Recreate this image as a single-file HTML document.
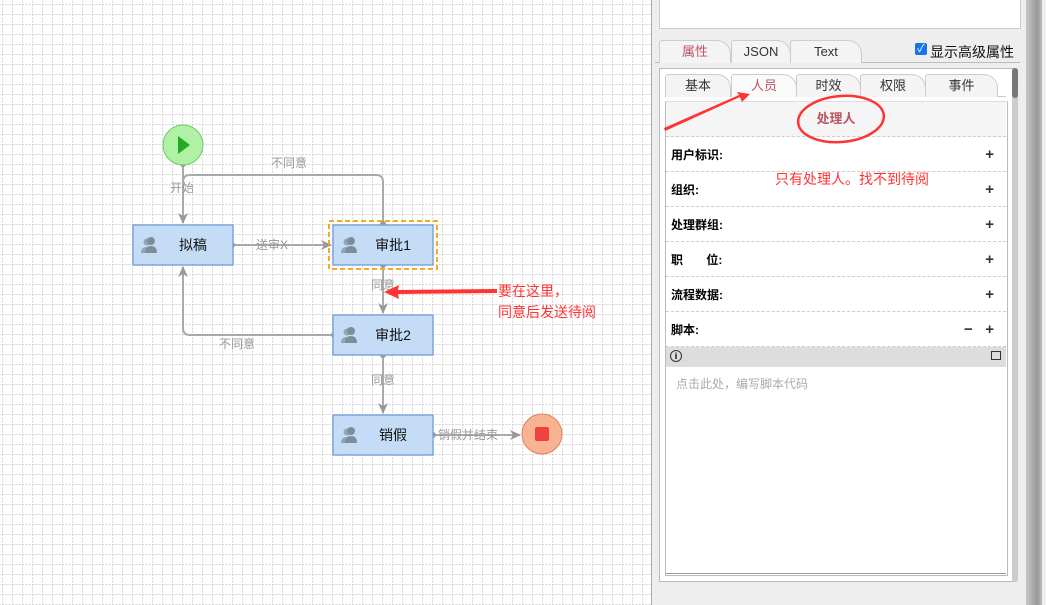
<!DOCTYPE html>
<html><head><meta charset="utf-8"><style>
body{margin:0;width:1046px;height:605px;overflow:hidden;position:relative;font-family:"Liberation Sans","Noto Sans CJK SC",sans-serif;}
.panel{position:absolute;left:651px;top:0;width:395px;height:605px;background:#eeeeee;border-left:1px solid #aaa;}
.abs{position:absolute;}
.tab{position:absolute;height:22px;border:1px solid #ccc;border-bottom:none;border-radius:3px 14px 0 0;background:#f4f4f4;font-size:13px;text-align:center;line-height:22px;color:#333;}
.row{position:absolute;left:666px;width:340px;height:34px;border-bottom:1px dashed #ccc;font-size:12px;font-weight:bold;line-height:36px;background:#fff;}
.row span.l{position:absolute;left:5px;}
.row span.p{position:absolute;right:12px;font-size:15px;font-weight:bold;color:#333;}
.red{color:#f33;font-size:14px;position:absolute;}
</style></head><body>
<svg class="abs" style="left:0;top:0" width="651" height="605">
<defs>
<pattern id="g" x="2" y="4" width="10" height="10" patternUnits="userSpaceOnUse">
<path d="M0,0.5 H10 M0.5,0 V10" stroke="#d4d4d4" stroke-width="1" stroke-dasharray="2,1.33" fill="none"/>
</pattern>
<marker id="a" markerWidth="12" markerHeight="12" refX="10" refY="6" orient="auto" markerUnits="userSpaceOnUse"><path d="M0,1 L11,6 L0,11 L3,6z" fill="#999"/></marker></defs>
<rect width="651" height="605" fill="#fff"/>
<rect width="651" height="605" fill="url(#g)"/>
<g stroke="#aaa" stroke-width="2" fill="none">
<path d="M183,165 V223" marker-end="url(#a)"/>
<path d="M383,225 V182 Q383,175 376,175 H190 Q183,175 183,182"/>
<path d="M233,245 H331" marker-end="url(#a)"/>
<path d="M383,265 V313" marker-end="url(#a)"/>
<path d="M333,335 H190 Q183,335 183,328 V267" marker-end="url(#a)"/>
<path d="M383,355 V413" marker-end="url(#a)"/>
<path d="M433,435 H520" marker-end="url(#a)"/>
</g>
<g fill="#999"><circle cx="183" cy="164" r="3"/><circle cx="232" cy="245" r="3"/><circle cx="383" cy="224" r="3"/><circle cx="383" cy="265" r="3"/><circle cx="334" cy="335" r="3"/><circle cx="383" cy="355" r="3"/><circle cx="433" cy="435" r="3"/></g>
<circle cx="183" cy="145" r="20" fill="#b1f1a3" stroke="#6c6" />
<path d="M178,136 L190,145 L178,154z" fill="#2a2"/>
<circle cx="542" cy="434" r="20" fill="#f8b393" stroke="#e08060"/>
<rect x="535" y="427" width="14" height="14" rx="2" fill="#f04040"/>
<rect x="329" y="221" width="108" height="48" fill="none" stroke="#f9a825" stroke-width="2" stroke-dasharray="5,3"/>
<g fill="#c5dcf7" stroke="#7ea6d8" stroke-width="1.5">
<rect x="133" y="225" width="100" height="40"/><rect x="333" y="225" width="100" height="40"/>
<rect x="333" y="315" width="100" height="40"/><rect x="333" y="415" width="100" height="40"/></g>
<g fill="#7d8e9a">
<g transform="translate(143,237)"><circle cx="8" cy="4" r="4"/><path d="M2,16 Q2,9 8,9 Q14,9 14,16z"/><circle cx="4" cy="5" r="3.5" opacity=".7"/><path d="M-2,16 Q-2,10 4,10 L4,16z" opacity=".7"/></g>
<g transform="translate(343,237)"><circle cx="8" cy="4" r="4"/><path d="M2,16 Q2,9 8,9 Q14,9 14,16z"/><circle cx="4" cy="5" r="3.5" opacity=".7"/><path d="M-2,16 Q-2,10 4,10 L4,16z" opacity=".7"/></g>
<g transform="translate(343,327)"><circle cx="8" cy="4" r="4"/><path d="M2,16 Q2,9 8,9 Q14,9 14,16z"/><circle cx="4" cy="5" r="3.5" opacity=".7"/><path d="M-2,16 Q-2,10 4,10 L4,16z" opacity=".7"/></g>
<g transform="translate(343,427)"><circle cx="8" cy="4" r="4"/><path d="M2,16 Q2,9 8,9 Q14,9 14,16z"/><circle cx="4" cy="5" r="3.5" opacity=".7"/><path d="M-2,16 Q-2,10 4,10 L4,16z" opacity=".7"/></g>
</g>
<g font-size="14" fill="#111" text-anchor="middle" font-family="Liberation Sans,Noto Sans CJK SC,sans-serif">
<text x="193" y="250">拟稿</text><text x="393" y="250">审批1</text><text x="393" y="340">审批2</text><text x="393" y="440">销假</text></g>
<g font-size="12" fill="#999" font-family="Liberation Sans,Noto Sans CJK SC,sans-serif">
<text x="271" y="167">不同意</text><text x="170" y="192">开始</text><text x="256" y="249">送审X</text>
<text x="371" y="289">同意</text><text x="219" y="348">不同意</text><text x="371" y="384">同意</text><text x="438" y="439">销假并结束</text></g>
<path d="M497,289 L398,290 L399,285 L384,292 L399,299 L398,294 L497,293z" fill="#f33"/>
</svg>
<div class="red" style="left:498px;top:281px;line-height:21px">要在这里，<br>同意后发送待阅</div>
<div class="panel"></div>
<div class="abs" style="left:659px;top:-1px;width:360px;height:28px;background:#fff;border:1px solid #ccc;"></div>
<div class="abs" style="left:1026px;top:0;width:16px;height:605px;background:linear-gradient(90deg,#c8c8c8,#999 70%,#bbb)"></div>
<div class="abs" style="left:655px;top:62px;width:365px;height:1px;background:#bbb"></div>
<div class="tab" style="left:659px;top:40px;width:70px;color:#b56;">属性</div>
<div class="tab" style="left:731px;top:40px;width:58px;">JSON</div>
<div class="tab" style="left:790px;top:40px;width:70px;">Text</div>
<div class="abs" style="left:915px;top:43px;width:12px;height:12px;background:#1a73e8;border-radius:2px;color:#fff;font-size:11px;line-height:12px;text-align:center">✓</div>
<div class="abs" style="left:930px;top:42px;font-size:14px;color:#111">显示高级属性</div>
<div class="abs" style="left:659px;top:68px;width:354px;height:512px;background:#fff;border:1px solid #bbb;"></div>
<div class="abs" style="left:1012px;top:68px;width:6px;height:514px;background:#ccc;border-radius:3px"></div>
<div class="abs" style="left:1012px;top:68px;width:6px;height:30px;background:#777;border-radius:3px"></div>
<div class="abs" style="left:665px;top:96px;width:341px;height:1px;background:#ccc"></div>
<div class="tab" style="left:665px;top:74px;width:64px;">基本</div>
<div class="tab" style="left:731px;top:74px;width:64px;color:#b56;background:#fafafa">人员</div>
<div class="tab" style="left:796px;top:74px;width:63px;">时效</div>
<div class="tab" style="left:860px;top:74px;width:64px;">权限</div>
<div class="tab" style="left:925px;top:74px;width:71px;">事件</div>
<div class="abs" style="left:665px;top:101px;width:341px;height:473px;border:1px solid #bbb;border-top:1px solid #ddd;background:#fff"></div>
<div class="abs" style="left:666px;top:102px;width:340px;height:34px;background:#f5f5f5;border-bottom:1px dashed #ccc;text-align:center;font-size:13px;font-weight:bold;color:#b56;line-height:34px">处理人</div>
<div class="row" style="top:137px"><span class="l">用户标识:</span><span class="p">+</span></div>
<div class="row" style="top:172px"><span class="l">组织:</span><span class="p">+</span></div>
<div class="row" style="top:207px"><span class="l">处理群组:</span><span class="p">+</span></div>
<div class="row" style="top:242px"><span class="l">职&nbsp;&nbsp;&nbsp;&nbsp;&nbsp;&nbsp;&nbsp;位:</span><span class="p">+</span></div>
<div class="row" style="top:277px"><span class="l">流程数据:</span><span class="p">+</span></div>
<div class="row" style="top:312px"><span class="l">脚本:</span><span class="p">−&nbsp;&nbsp;&nbsp;+</span></div>
<div class="abs" style="left:666px;top:347px;width:340px;height:20px;background:#ddd"></div>
<div class="abs" style="left:670px;top:350px;width:10px;height:10px;border:1px solid #333;border-radius:50%;font-size:9px;line-height:10px;text-align:center;font-weight:bold">i</div>
<div class="abs" style="left:991px;top:351px;width:8px;height:7px;border:1px solid #333"></div>
<div class="abs" style="left:676px;top:375px;font-size:12px;color:#aaa">点击此处，编写脚本代码</div>
<div class="abs" style="left:666px;top:573px;width:340px;height:1px;background:#999"></div>
<svg class="abs" style="left:650px;top:80px" width="260" height="80">
<path d="M15,51 L90,17 L92,22 L100,14 L87,12 L89,15 L14,48z" fill="#f33"/>
<ellipse cx="191" cy="39" rx="43" ry="23" fill="none" stroke="#f33" stroke-width="2.5" transform="rotate(-5 191 39)"/>
</svg>
<div class="red" style="left:775px;top:169px">只有处理人。找不到待阅</div>
</body></html>
